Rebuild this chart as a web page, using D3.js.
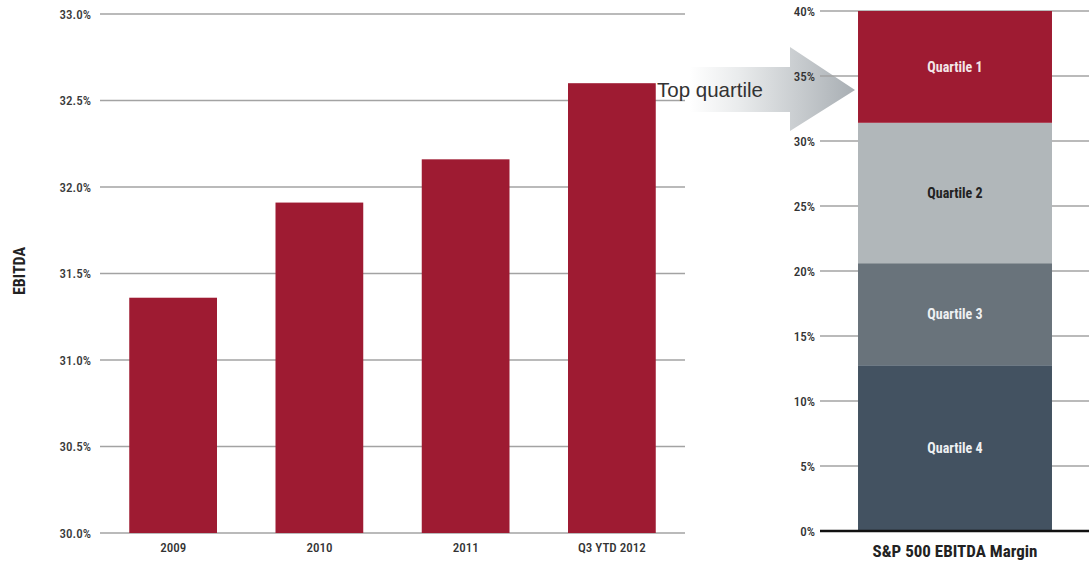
<!DOCTYPE html>
<html>
<head>
<meta charset="utf-8">
<script src="https://cdn.jsdelivr.net/npm/d3@7/dist/d3.min.js"></script>
<style>
  html, body { margin: 0; padding: 0; background: #fff; }
  svg { display: block; }
  .cond { font-family: "Liberation Sans Narrow", "Roboto Condensed", "Liberation Sans", Arial, sans-serif; font-stretch: condensed; }
</style>
</head>
<body>
<svg id="chart" width="1089" height="565"></svg>
<script>
// Company EBITDA margin by period
const periods = ["2009", "2010", "2011", "Q3 YTD 2012"];
const margins = [31.36, 31.91, 32.16, 32.60];
const leftTicks = [30.0, 30.5, 31.0, 31.5, 32.0, 32.5, 33.0];

// S&P 500 EBITDA margin quartile bands (lower, upper bounds in %)
const quartiles = ["Quartile 4", "Quartile 3", "Quartile 2", "Quartile 1"];
const quartileLow = [0, 12.75, 20.6, 31.4];
const quartileHigh = [12.75, 20.6, 31.4, 40];
const quartileColors = ["#435261", "#69737b", "#b1b7ba", "#9e1b32"];
const quartileText = ["#eef0f2", "#eef0f2", "#222", "#f3e6e8"];
const rightTicks = [0, 5, 10, 15, 20, 25, 30, 35, 40];

const svg = d3.select("#chart");
const RED = "#9e1b32";

// ---------- Arrow pointing at the top quartile (drawn first, labels sit on top) ----------
const defs = svg.append("defs");
const grad = defs.append("linearGradient").attr("id", "arrowGrad")
  .attr("gradientUnits", "userSpaceOnUse")
  .attr("x1", 690).attr("x2", 855).attr("y1", 0).attr("y2", 0);
grad.append("stop").attr("offset", "0%").attr("stop-color", "#ffffff");
grad.append("stop").attr("offset", "30%").attr("stop-color", "#e9ebec");
grad.append("stop").attr("offset", "100%").attr("stop-color", "#a8aeb3");

const arrowPts = [[690, 67], [790, 67], [790, 47], [855, 90], [790, 131], [790, 112], [690, 112]];
svg.append("path")
  .attr("d", d3.line()(arrowPts) + "Z")
  .attr("fill", "url(#arrowGrad)");

// ---------- Left panel ----------
const xL = d3.scaleBand().domain(periods).range([100, 685]).paddingInner(0.4).paddingOuter(0.2);
const yL = d3.scaleLinear().domain([30, 33]).range([533, 14]);

const gL = svg.append("g");
gL.selectAll("line.grid").data(leftTicks).join("line")
  .attr("x1", 100).attr("x2", 685)
  .attr("y1", d => yL(d)).attr("y2", d => yL(d))
  .attr("stroke", "#a3a3a3").attr("stroke-width", 1.5);

const axL = d3.axisLeft(yL).tickValues(leftTicks).tickFormat(d => d3.format(".1f")(d) + "%").tickSize(0).tickPadding(9);
gL.append("g").attr("transform", "translate(100,0)").call(axL)
  .call(g => g.select(".domain").remove())
  .selectAll("text").attr("class", "cond").attr("font-size", 13).attr("font-weight", 500).attr("fill", "#3a3a3a");

gL.selectAll("rect.bar").data(periods).join("rect")
  .attr("x", d => xL(d)).attr("width", xL.bandwidth())
  .attr("y", (d, i) => yL(margins[i])).attr("height", (d, i) => yL(30) - yL(margins[i]))
  .attr("fill", RED);

const axB = d3.axisBottom(xL).tickSize(0).tickPadding(10);
gL.append("g").attr("transform", "translate(0,533)").call(axB)
  .call(g => g.select(".domain").remove())
  .selectAll("text").attr("class", "cond").attr("font-size", 13).attr("font-weight", 500).attr("fill", "#333");

svg.append("text").attr("class", "cond")
  .attr("transform", "translate(19,271) rotate(-90)")
  .attr("dy", "0.35em")
  .attr("text-anchor", "middle").attr("font-size", 16).attr("font-weight", "bold").attr("fill", "#222")
  .text("EBITDA");

// ---------- Right panel ----------
const yR = d3.scaleLinear().domain([0, 40]).range([531, 11]);
const xR = d3.scaleBand().domain(["S&P 500 EBITDA Margin"]).range([820, 1090]).paddingOuter(0.196);
const bx = xR("S&P 500 EBITDA Margin"), bw = xR.bandwidth();

const gR = svg.append("g");
gR.selectAll("line.grid").data(rightTicks.filter(d => d > 0)).join("line")
  .attr("x1", 820).attr("x2", 1089)
  .attr("y1", d => yR(d)).attr("y2", d => yR(d))
  .attr("stroke", "#a3a3a3").attr("stroke-width", 1.5);

const axR = d3.axisLeft(yR).tickValues(rightTicks).tickFormat(d => d + "%").tickSize(0).tickPadding(5);
gR.append("g").attr("transform", "translate(820,0)").call(axR)
  .call(g => g.select(".domain").remove())
  .selectAll("text").attr("class", "cond").attr("font-size", 13).attr("font-weight", 500).attr("fill", "#333");

gR.selectAll("rect.seg").data(quartiles).join("rect")
  .attr("x", bx).attr("width", bw)
  .attr("y", (d, i) => yR(quartileHigh[i]))
  .attr("height", (d, i) => yR(quartileLow[i]) - yR(quartileHigh[i]))
  .attr("fill", (d, i) => quartileColors[i]);

gR.selectAll("text.seg").data(quartiles).join("text")
  .attr("class", "cond")
  .attr("x", bx + bw / 2)
  .attr("y", (d, i) => (yR(quartileHigh[i]) + yR(quartileLow[i])) / 2)
  .attr("dy", "0.35em").attr("text-anchor", "middle")
  .attr("font-size", 14).attr("font-weight", "bold")
  .attr("fill", (d, i) => quartileText[i])
  .text(d => d);

gR.append("line").attr("x1", 820).attr("x2", 1089).attr("y1", yR(0)).attr("y2", yR(0))
  .attr("stroke", "#111").attr("stroke-width", 2.5);

gR.append("text").attr("class", "cond")
  .attr("x", bx + bw / 2).attr("y", 557).attr("text-anchor", "middle")
  .attr("font-size", 17).attr("font-weight", "bold").attr("fill", "#222")
  .text("S&P 500 EBITDA Margin");

svg.append("text")
  .attr("x", 657).attr("y", 97)
  .attr("font-family", "'Liberation Sans', Arial, sans-serif")
  .attr("font-size", 21).attr("fill", "#333")
  .attr("textLength", 106).attr("lengthAdjust", "spacingAndGlyphs")
  .text("Top quartile");
</script>
</body>
</html>
